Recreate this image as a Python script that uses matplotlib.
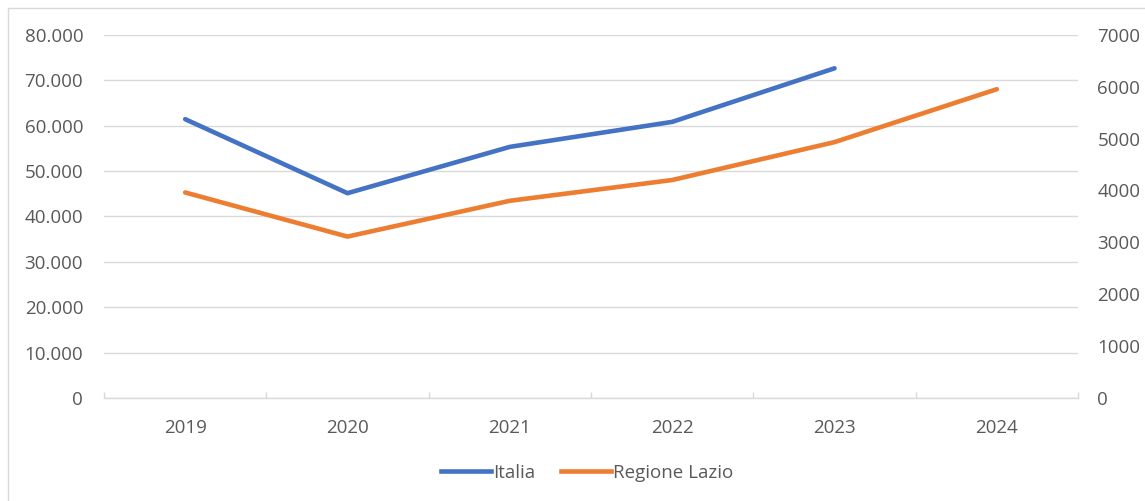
import numpy as np
import matplotlib
matplotlib.use("Agg")
import matplotlib.pyplot as plt
from matplotlib.lines import Line2D
from matplotlib.ticker import FuncFormatter, MultipleLocator

# data
years = ["2019", "2020", "2021", "2022", "2023", "2024"]
italia = [61400, 45100, 55300, 60800, 72600, np.nan]
lazio = [3960, 3110, 3800, 4200, 4930, 5950]

blue = "#4472C4"
orange = "#ED7D31"
grid_c = "#D9D9D9"
text_c = "#595959"

plt.rcParams["font.family"] = ["Open Sans", "DejaVu Sans"]
plt.rcParams["font.size"] = 13.5

fig = plt.figure(figsize=(11.45, 5.01), dpi=100)
ax = fig.add_axes([104 / 1145, 1 - 398 / 501, 974 / 1145, (398 - 34.7) / 501])
ax2 = ax.twinx()

x = np.arange(len(years))
ax.plot(x, italia, color=blue, lw=3.3, solid_capstyle="round", solid_joinstyle="round", zorder=3)
ax2.plot(x, lazio, color=orange, lw=3.3, solid_capstyle="round", solid_joinstyle="round", zorder=3)

ax.set_xlim(-0.5, len(years) - 0.5)
ax.set_ylim(0, 80000)
ax2.set_ylim(0, 7000)
ax.yaxis.set_major_locator(MultipleLocator(10000))
ax2.yaxis.set_major_locator(MultipleLocator(1000))
ax.yaxis.set_major_formatter(FuncFormatter(lambda v, p: "0" if v == 0 else f"{int(v):,}".replace(",", ".")))
ax2.yaxis.set_major_formatter(FuncFormatter(lambda v, p: f"{int(v)}"))

ax.grid(axis="y", color=grid_c, lw=1.0)
ax.set_axisbelow(True)

for a in (ax, ax2):
    for s in a.spines.values():
        s.set_visible(False)
ax.spines["bottom"].set_visible(True)
ax.spines["bottom"].set_color(grid_c)
ax.spines["bottom"].set_linewidth(1.0)

ax.set_xticks(x)
ax.set_xticklabels(years)
ax.set_xticks(np.arange(-0.5, len(years)), minor=True)
ax.tick_params(axis="x", which="major", length=0, pad=15, colors=text_c)
ax.tick_params(axis="x", which="minor", length=4, direction="in", color=grid_c, width=1.0)
ax.tick_params(axis="y", length=0, pad=15, colors=text_c)
ax2.tick_params(axis="y", length=0, pad=14, colors=text_c)

# legend below the plot
handles = [Line2D([0], [0], color=blue, lw=3.3),
           Line2D([0], [0], color=orange, lw=3.3)]
leg = fig.legend(handles, ["Italia", "Regione Lazio"], loc="center",
                 bbox_to_anchor=(587 / 1145, 1 - 473 / 501), ncol=2, frameon=False,
                 handlelength=2.65, handletextpad=0.1, columnspacing=1.4)
for t in leg.get_texts():
    t.set_color(text_c)

# light chart frame (left and top edges)
fig.add_artist(Line2D([7.5 / 1145, 7.5 / 1145], [0, 1 - 8 / 501], color=grid_c, lw=1.0, transform=fig.transFigure))
fig.add_artist(Line2D([7.5 / 1145, 1], [1 - 8 / 501, 1 - 8 / 501], color=grid_c, lw=1.0, transform=fig.transFigure))

fig.savefig("out.png", dpi=100)
